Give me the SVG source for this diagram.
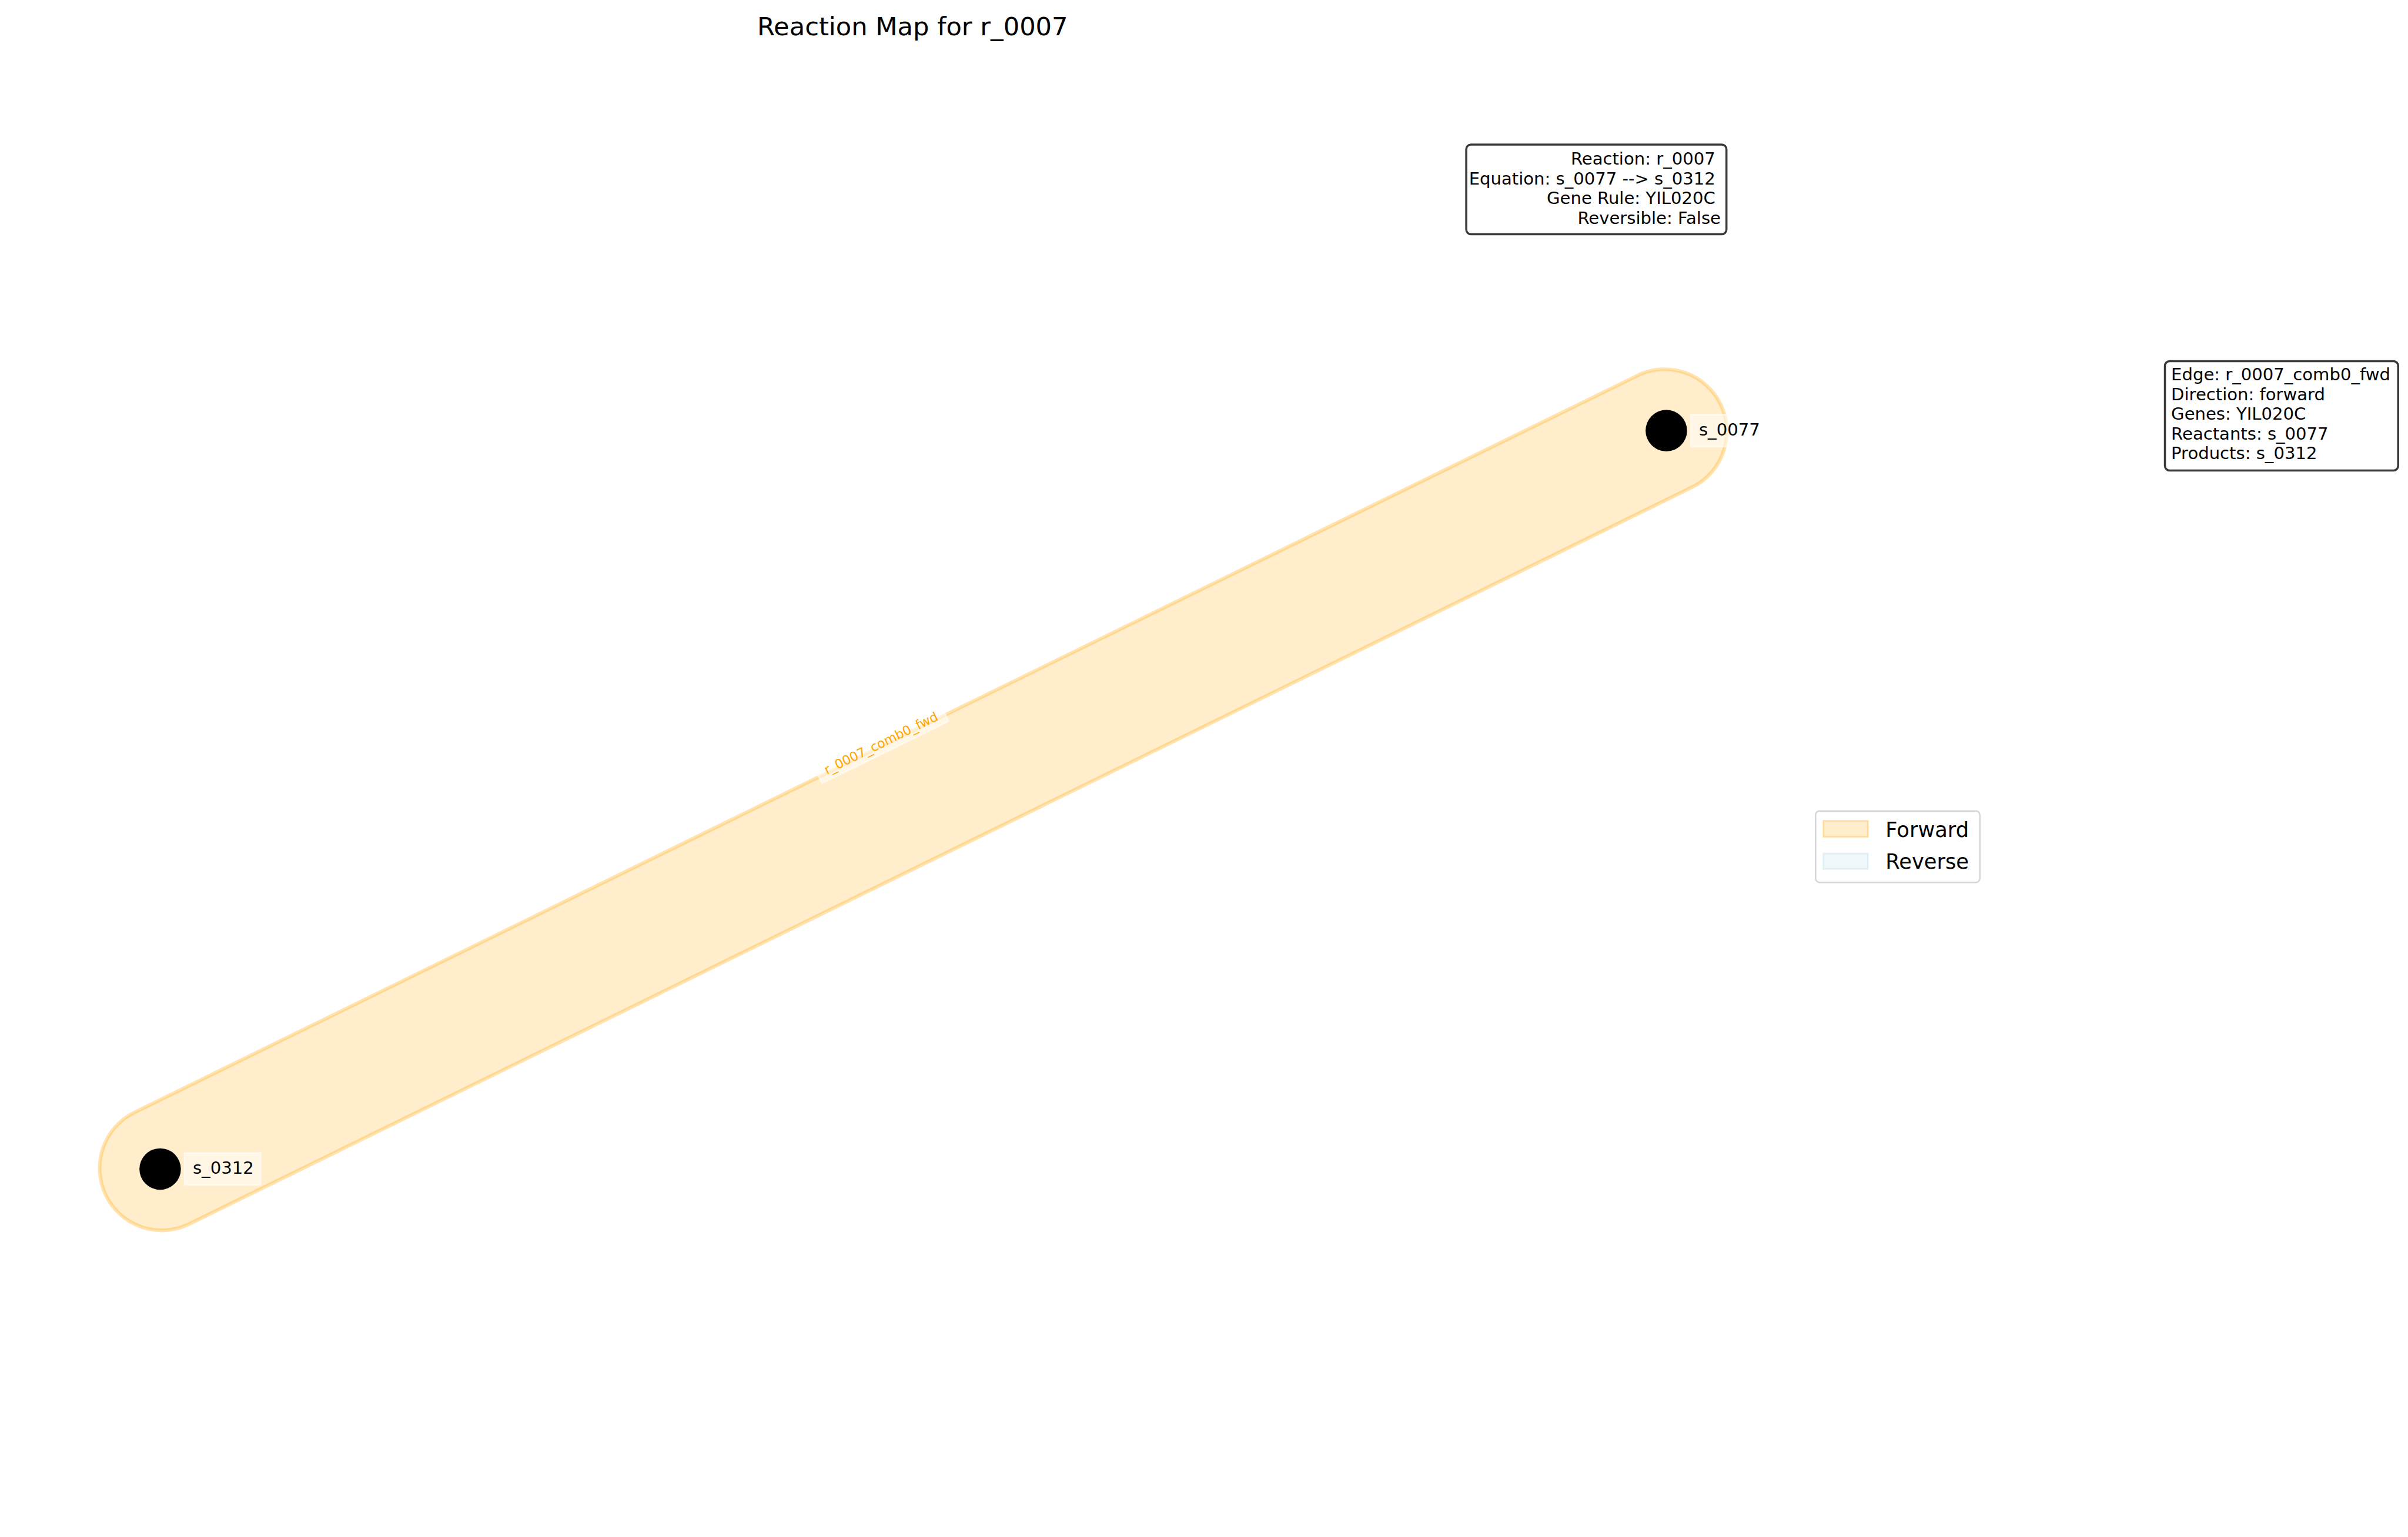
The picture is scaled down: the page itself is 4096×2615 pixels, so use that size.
<svg xmlns="http://www.w3.org/2000/svg" width="4096" height="2615" viewBox="0 0 4096 2615">
<style>
text{font-family:"DejaVu Sans","Liberation Sans",sans-serif;fill:#000}
.title{font-size:49px}
.info{font-size:33px}
.nlab{font-size:33px}
.elab{font-size:25px;fill:#FFA500}
.leg{font-size:40px}
.lbox{fill:#fff;fill-opacity:0.5;stroke:#fff;stroke-opacity:0.5;stroke-width:3}
.ibox{fill:#fff;stroke:#3a3a3a;stroke-width:4}
.fwd{fill:#FFA500;fill-opacity:0.2;stroke:#FFA500;stroke-opacity:0.3;stroke-width:7}
.rev{fill:#ADD8E6;fill-opacity:0.2;stroke:#ADD8E6;stroke-opacity:0.3;stroke-width:3}
</style>
<rect width="4096" height="2615" fill="#fff"/>
<g transform="scale(0.88162)">
<text class="title" x="1461" y="68">Reaction Map for r_0007</text>
<g id="connectors">
<g id="edge-r_0007_comb0_fwd">
<path class="fwd" d="M256.2 2148.3 L3162.2 723.3 A120 120 0 0 1 3267.8 938.7 L361.8 2363.7 A120 120 0 0 1 256.2 2148.3 Z"/>
<g transform="translate(1703.5,1442) rotate(-26.12)">
<rect class="lbox" x="-136" y="-25" width="272" height="36"/>
<text class="elab" x="0" y="0" text-anchor="middle">r_0007_comb0_fwd</text>
</g>
</g>
</g>
<g id="node-s_0077">
<circle cx="3215" cy="831" r="40" fill="#000"/>
<rect class="lbox" x="3262" y="800" width="147" height="62"/>
<text class="nlab" x="3278" y="841">s_0077</text>
</g>
<g id="node-s_0312">
<circle cx="309" cy="2256" r="40" fill="#000"/>
<rect class="lbox" x="356" y="2225" width="147" height="62"/>
<text class="nlab" x="372" y="2265">s_0312</text>
</g>
<g id="reaction-info">
<rect class="ibox" x="2829" y="279" width="502" height="173" rx="9"/>
<text class="info" text-anchor="end">
<tspan x="3320" y="318">Reaction: r_0007</tspan>
<tspan x="3320" y="356">Equation: s_0077 --&gt; s_0312</tspan>
<tspan x="3320" y="394">Gene Rule: YIL020C</tspan>
<tspan x="3320" y="432">Reversible: False</tspan>
</text>
</g>
<g id="edge-info">
<rect class="ibox" x="4177" y="697" width="450" height="211" rx="9"/>
<text class="info">
<tspan x="4189" y="734">Edge: r_0007_comb0_fwd</tspan>
<tspan x="4189" y="772">Direction: forward</tspan>
<tspan x="4189" y="810">Genes: YIL020C</tspan>
<tspan x="4189" y="848">Reactants: s_0077</tspan>
<tspan x="4189" y="886">Products: s_0312</tspan>
</text>
</g>
<g id="legend">
<rect x="3503" y="1565" width="317" height="138" rx="8" fill="#fff" stroke="#d6d6d6" stroke-width="3"/>
<rect class="fwd" x="3518" y="1584" width="86" height="31" style="stroke-width:3"/>
<rect class="rev" x="3518" y="1647" width="86" height="30"/>
<text class="leg" x="3638" y="1615">Forward</text>
<text class="leg" x="3638" y="1677">Reverse</text>
</g>
</g>
</svg>
